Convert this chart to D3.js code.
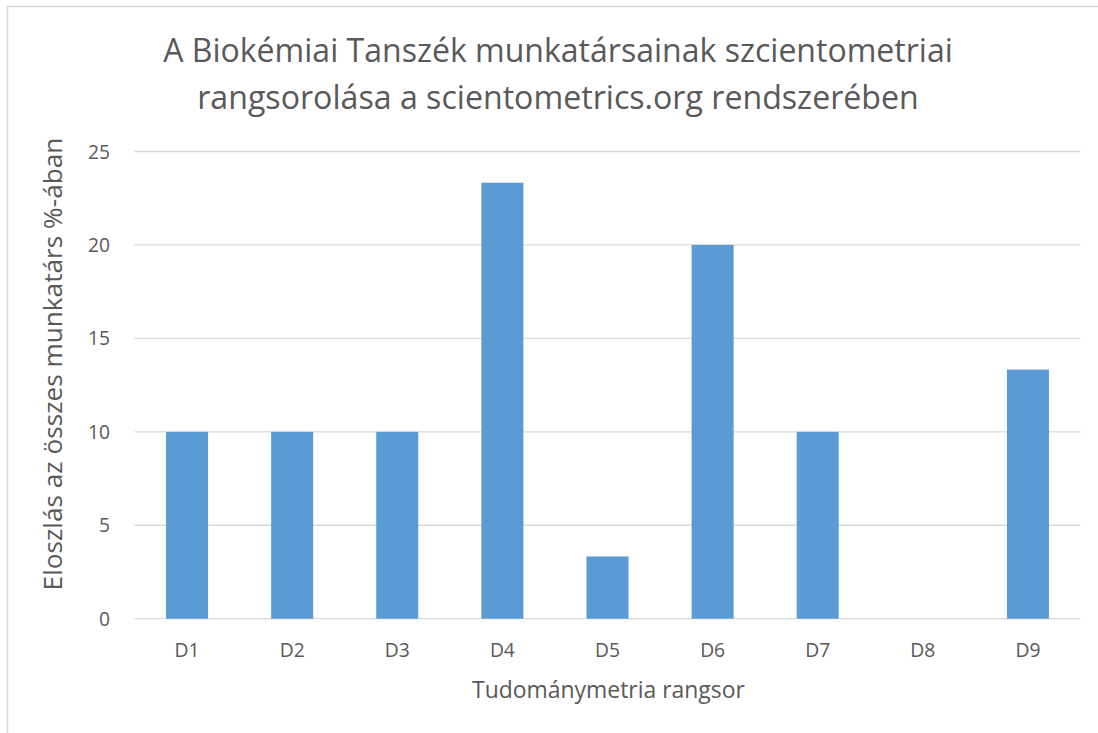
<!DOCTYPE html>
<html><head><meta charset="utf-8">
<script src="https://cdn.jsdelivr.net/npm/d3@7"></script>
<style>body{margin:0;background:#fff}svg{display:block}text{font-family:"Open Sans",sans-serif;fill:#595959}</style>
</head><body>
<script>
const categories = ["D1","D2","D3","D4","D5","D6","D7","D8","D9"];
const values = [10,10,10,23.33,3.33,20,10,0,13.33];
const yTicks = [0,5,10,15,20,25];
const titleLines = ["A Biokémiai Tanszék munkatársainak szcientometriai","rangsorolása a scientometrics.org rendszerében"];
const yTitle = "Eloszlás az összes munkatárs %-ában";
const xTitle = "Tudománymetria rangsor";

const W=1098,H=733;
const svg=d3.select("body").append("svg").attr("width",W).attr("height",H);
svg.append("rect").attr("x",7.5).attr("y",6.5).attr("width",W).attr("height",H).attr("fill","#fff").attr("stroke","#d9d9d9").attr("stroke-width",1.5);

function fit(sel,target){
  sel.attr("font-size",20);
  const w=sel.node().getComputedTextLength();
  sel.attr("font-size",20*target/w);
}

const x=d3.scaleBand().domain(categories).range([134.5,1080.5]).padding(0);
const y=d3.scaleLinear().domain([0,25]).range([618.7,151.5]);

const g=svg.append("g");
g.selectAll("line.grid").data(yTicks).join("line").attr("class","grid")
 .attr("x1",x.range()[0]).attr("x2",x.range()[1])
 .attr("y1",d=>y(d)).attr("y2",d=>y(d)).attr("stroke","#d9d9d9").attr("stroke-width",1.3);

const bw=x.bandwidth()*0.4;
g.selectAll("rect.bar").data(values).join("rect").attr("class","bar")
 .attr("x",(d,i)=>x(categories[i])+x.bandwidth()/2-bw/2)
 .attr("width",bw)
 .attr("y",d=>y(d)).attr("height",d=>y(0)-y(d)).attr("fill","#5b9bd5");

const yAxis=svg.append("g").attr("transform","translate(110,0)")
 .call(d3.axisLeft(y).tickValues(yTicks).tickSize(0).tickPadding(0));
yAxis.select(".domain").remove();
const yt=yAxis.selectAll("text").attr("fill","#595959").attr("font-family","Open Sans").attr("dy",null).attr("y",6.5);
fit(yAxis.selectAll("text").filter(d=>d===25),22);
yt.attr("font-size",yAxis.selectAll("text").filter(d=>d===25).attr("font-size"));

const xAxis=svg.append("g").attr("transform",`translate(0,${y(0)})`)
 .call(d3.axisBottom(x).tickSize(0).tickPadding(0));
xAxis.select(".domain").remove();
const xt=xAxis.selectAll("text").attr("fill","#595959").attr("font-family","Open Sans").attr("dy",null).attr("y",657-y(0));
fit(xAxis.selectAll("text").filter(d=>d==="D4"),25);
xt.attr("font-size",xAxis.selectAll("text").filter(d=>d==="D4").attr("font-size"));

const titleW=[790,722];
svg.selectAll("text.title").data(titleLines).join("text").attr("class","title")
 .attr("x",558).attr("y",(d,i)=>62+i*47).attr("text-anchor","middle")
 .text(d=>d).each(function(d,i){fit(d3.select(this),titleW[i]);});

fit(svg.append("text").attr("transform","translate(62,364) rotate(-90)")
 .attr("text-anchor","middle").text(yTitle),453);
fit(svg.append("text").attr("x",608.5).attr("y",698).attr("text-anchor","middle")
 .text(xTitle),273);
</script>
</body></html>
